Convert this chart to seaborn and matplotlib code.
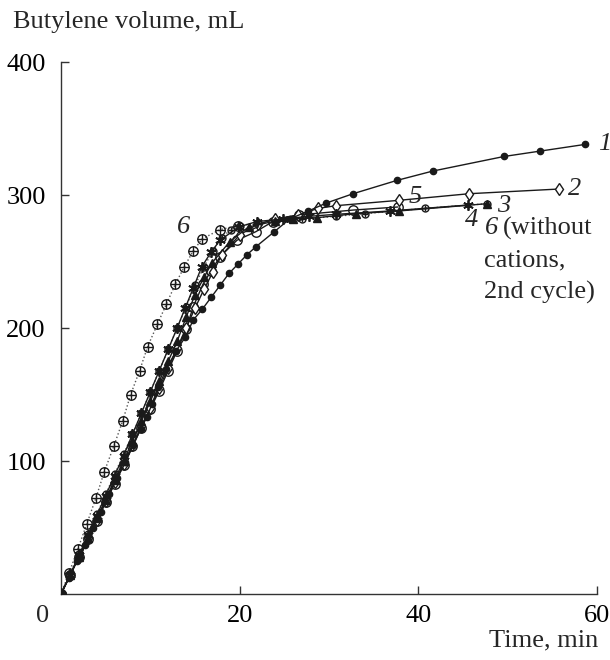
import matplotlib
matplotlib.use("Agg")
import matplotlib.pyplot as plt
import seaborn as sns
import pandas as pd

# ---- data ----
t1 = [0, 0.9, 1.8, 2.7, 3.6, 4.5, 5.4, 6.3, 7.2, 8.1, 8.9, 9.6, 10.2, 10.9, 11.8, 12.9, 13.9, 14.8,
      15.8, 16.8, 17.8, 18.8, 19.8, 20.8, 21.8, 23.8, 25.6, 27.7, 29.7, 32.7, 37.6, 41.6, 49.6, 53.6, 58.6]
v1 = [0, 12, 25, 37, 50, 62, 75, 87, 99, 112, 124, 133, 143, 156, 169, 183, 193, 206,
      214, 223, 232, 241, 248, 255, 261, 272, 282, 288, 294, 301, 311, 318, 329, 333, 338]

t2 = [0, 1, 2, 3, 4, 5, 6, 7, 8, 9, 10, 11, 12, 13, 14, 15, 16, 17, 18, 20, 22, 24, 26.5, 28.8, 30.8, 37.8, 45.7, 55.7]
v2 = [0, 14, 28, 42, 56, 70, 84, 98, 112, 126, 140, 155, 170, 185, 200, 215, 229, 242, 255, 270, 278, 282, 285, 290, 292, 296, 301, 304.5]

t3 = [0, 1, 2, 3, 4, 5, 6, 7, 8, 9, 10, 11, 12, 13, 14, 15, 16, 16.9, 18.9, 21, 24, 26, 28.7, 33, 37.8, 47.7]
v3 = [0, 14, 28, 42, 57, 71, 86, 100, 115, 130, 145, 160, 175, 190, 208, 225, 238, 249, 265, 276, 280.5, 282, 283, 286, 288, 293.5]

t4 = [0, 1, 2, 3, 4, 5, 6, 7, 8, 9, 10, 11, 12, 13, 13.9, 14.8, 15.75, 16.8, 17.8, 19.9, 21.9, 24.8, 27.8, 30.8, 36.8, 45.6]
v4 = [0, 14, 29, 44, 59, 74, 89, 104, 120, 136, 152, 168, 184, 200, 215, 230, 246, 257, 266, 276, 280, 282, 284, 285.5, 288, 292.5]

t5 = [0, 1, 2, 3, 4, 5, 6, 7, 8, 9, 10, 11, 12, 13, 14, 14.8, 15.9, 16.8, 17.8, 19.7, 21.8, 23.7, 26.6, 32.7, 37.7]
v5 = [0, 14, 28, 41, 55, 69, 83, 97, 111, 125, 139, 153, 168, 183, 199, 216, 233, 243, 253.6, 266, 272.4, 280, 285, 288.7, 291]

t6 = [0, 0.9, 1.9, 2.9, 3.9, 4.85, 5.9, 6.9, 7.8, 8.8, 9.7, 10.8, 11.8, 12.8, 13.8, 14.8, 15.8, 17.8, 19.8]
v6 = [0, 16, 34, 53, 72, 92, 111, 130, 150, 168, 186, 203, 218, 233, 246, 258, 267, 274, 277]

t7 = [0, 1, 2, 3, 4, 5, 6, 7, 8, 9, 10, 11, 12, 13, 14, 15, 16, 17, 18, 19, 20, 22, 24, 27, 30.8, 34, 40.8, 47.7]
v7 = [0, 15, 30, 45, 60, 75, 90, 105, 120, 136, 152, 168, 184, 200, 216, 232, 246, 258, 268, 274, 277, 279, 280, 282, 284, 286, 290, 293.5]

x_ticks = [20, 40, 60]
y_ticks = [100, 200, 300, 400]
x_label = "Time, min"
y_label = "Butylene volume, mL"

# ---- style ----
sns.set_theme(style="white")
plt.rcParams["font.family"] = ["Liberation Serif", "DejaVu Serif"]
plt.rcParams["mathtext.fontset"] = "stix"

fig = plt.figure(figsize=(6.1, 6.6), dpi=100)
ax = fig.add_axes([0.1, 0.1, 0.8787, 0.806])

FS = 19
lw = 1.0
blk = "#1a1a1a"

def draw(t, v, marker, ms, face, ls="-", color=blk, mew=1.0, z=3):
    df = pd.DataFrame({"t": t, "v": v})
    sns.lineplot(data=df, x="t", y="v", ax=ax, sort=False, estimator=None,
                 color=color, linewidth=lw, linestyle=ls, marker=marker,
                 markersize=ms, markerfacecolor=face, markeredgecolor=blk,
                 markeredgewidth=mew, zorder=z)

def overlay(t, v, marker, ms, mew=1.0, z=4):
    df = pd.DataFrame({"t": t, "v": v})
    sns.lineplot(data=df, x="t", y="v", ax=ax, sort=False, estimator=None,
                 linestyle="none", marker=marker, markersize=ms,
                 markeredgecolor=blk, markerfacecolor="none",
                 markeredgewidth=mew, zorder=z)

# 6 (dotted, crossed circles)
draw(t6, v6, "o", 6.8, "none", ls=":", color="#555555")
overlay(t6, v6, "+", 6.8)
# 6 (2nd cycle)
draw(t7, v7, "o", 5.0, "none", ls=":", color="#555555")
overlay(t7, v7, "+", 5.0)
# 5 open circles
draw(t5, v5, "o", 6.8, "none")
# 2 open diamonds
draw(t2, v2, "d", 6.0, "white")
# 3 filled triangles
draw(t3, v3, "^", 5.5, blk)
# 4 asterisks
draw(t4, v4, (6, 2, 0), 7.5, blk, mew=1.3)
# 1 filled dots
draw(t1, v1, "o", 4.5, blk)

# ---- axes ----
ax.set_xlim(0, 60)
ax.set_ylim(0, 400)
ax.set_xticks(x_ticks)
ax.set_yticks(y_ticks)
ax.set_xlabel("")
ax.set_ylabel("")
for s in ["top", "right"]:
    ax.spines[s].set_visible(False)
for s in ["left", "bottom"]:
    ax.spines[s].set_color("#333333")
    ax.spines[s].set_linewidth(1.0)
ax.tick_params(axis="both", direction="in", length=6, width=1.0, color="#333333",
               labelsize=FS, labelcolor="black", left=True, bottom=True)
ax.tick_params(axis="y", pad=11)
ax.tick_params(axis="x", pad=8)
for lab in ax.get_xticklabels() + ax.get_yticklabels():
    lab.set_fontfamily(["Liberation Serif", "DejaVu Serif"])

# corner zero
ax.annotate("0", xy=(0, 0), xycoords="data", xytext=(-18, -22), textcoords="offset pixels",
            ha="center", va="center", fontsize=FS, annotation_clip=False)

fig.text(13 / 610, 1 - 22 / 660, y_label, ha="left", va="center", fontsize=FS)
fig.text(598 / 610, 1 - 640 / 660, x_label, ha="right", va="center", fontsize=FS)

# ---- curve labels ----
kw = dict(fontsize=FS, va="center", ha="left", clip_on=False)
ax.text(60.1, 338, "1", style="italic", **kw)
ax.text(56.8, 304.5, "2", style="italic", **kw)
ax.text(48.8, 291.7, "3", style="italic", **kw)
ax.text(45.2, 281.2, "4", style="italic", **kw)
ax.text(38.9, 298.7, "5", style="italic", **kw)
ax.text(13.0, 276, "6", style="italic", **kw)
ax.text(47.4, 275, "6", style="italic", **kw)
ax.text(49.5, 275, "(without", **kw)
ax.text(47.4, 251, "cations,", **kw)
ax.text(47.4, 227, "2nd cycle)", **kw)

fig.savefig("out.png", dpi=100)
